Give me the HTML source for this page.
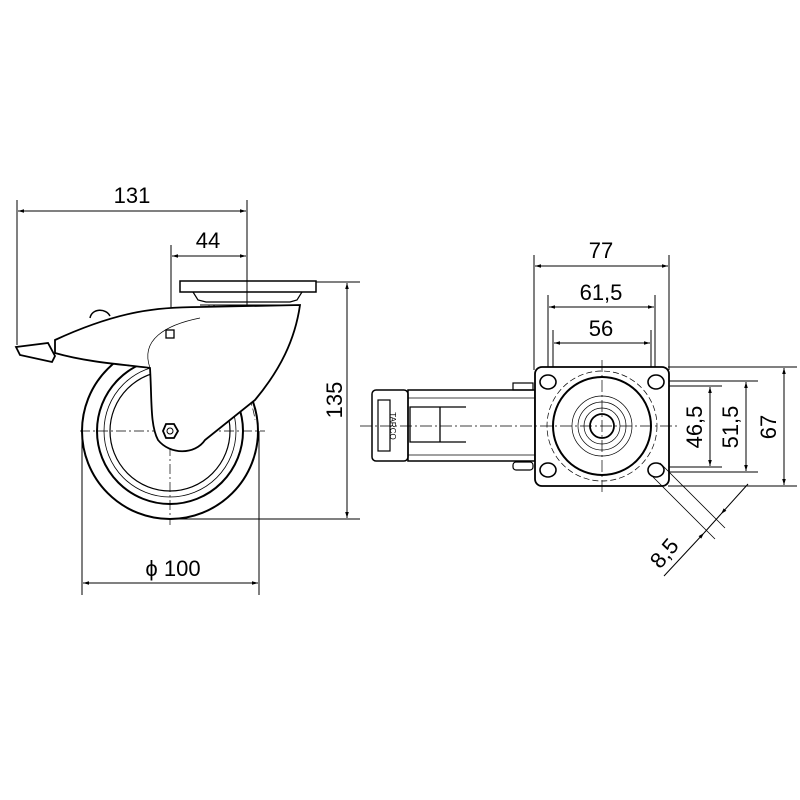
<!DOCTYPE html>
<html><head><style>body{margin:0;background:#fff}svg{display:block}</style></head><body>
<svg width="800" height="800" viewBox="0 0 800 800" xmlns="http://www.w3.org/2000/svg" font-family="Liberation Sans, DejaVu Sans, sans-serif">
<defs>
<marker id="a" viewBox="0 0 10 10" refX="10" refY="5" markerWidth="12" markerHeight="6" orient="auto-start-reverse" markerUnits="userSpaceOnUse"><path d="M0,2 L10,5 L0,8z" fill="#000"/></marker>
</defs>
<g stroke="#000" fill="none" stroke-width="1">
<!-- LEFT VIEW dimensions -->
<line x1="17" y1="200" x2="17" y2="345"/>
<line x1="247" y1="200" x2="247" y2="330"/>
<line x1="18" y1="211" x2="246" y2="211" marker-start="url(#a)" marker-end="url(#a)"/>
<line x1="171" y1="245" x2="171" y2="430"/>
<line x1="172" y1="256" x2="246" y2="256" marker-start="url(#a)" marker-end="url(#a)"/>
<line x1="316" y1="282" x2="360" y2="282"/>
<line x1="170" y1="519" x2="360" y2="519"/>
<line x1="347" y1="283" x2="347" y2="518" marker-start="url(#a)" marker-end="url(#a)"/>
<line x1="82" y1="431" x2="82" y2="595"/>
<line x1="259" y1="431" x2="259" y2="595"/>
<line x1="83" y1="583" x2="258" y2="583" marker-start="url(#a)" marker-end="url(#a)"/>
<!-- wheel -->
<circle cx="170" cy="431" r="88" stroke-width="2"/>
<circle cx="170" cy="431" r="73" stroke-width="2"/>
<circle cx="170" cy="431" r="66" stroke-width="0.8"/>
<circle cx="170" cy="431" r="60" stroke-width="1.2"/>
<path d="M170 345 A86 86 0 0 1 255 420" stroke-dasharray="8 3 2 3" stroke-width="0.7"/>
<line x1="80" y1="431" x2="265" y2="431" stroke-dasharray="10 3 2 3" stroke-width="0.7"/>
<line x1="170" y1="320" x2="170" y2="525" stroke-dasharray="10 3 2 3" stroke-width="0.7"/>
<!-- plate -->
<rect x="180" y="281" width="136" height="11" stroke-width="1.5"/>
<path d="M193 292 L198 300 L206 302 L290 302 L297 300 L302 292" stroke-width="1.2"/>
<path d="M200 305 L293 305" />
<line x1="214" y1="305" x2="214" y2="425"/>
<line x1="209" y1="305" x2="209" y2="425" stroke-width="0.7"/>
<!-- fork -->
<path d="M200 307 C160 307 120 310 55 340 L55 353 C90 363 130 365 150 368 C152 400 150 425 158 440 C170 455 195 455 205 440 L255 400 C280 370 295 340 300 305 Z" fill="#fff" stroke-width="1.8"/>
<path d="M150 368 C140 340 165 325 200 318" stroke-width="0.7"/>
<!-- brake pedal -->
<path d="M16 347 L48 343 L55 356 L52 362 L20 355 Z" fill="#fff" stroke-width="1.8"/>
<path d="M90 318 C92 308 106 308 110 316" stroke-width="1.5"/>
<rect x="166" y="330" width="8" height="8" stroke-width="1.3"/>
<!-- hub nut -->
<polygon points="163,431 166,424 174,424 178,431 174,438 166,438" stroke-width="1.8" fill="#fff"/>
<circle cx="170" cy="431" r="3" stroke-width="1"/>

<!-- RIGHT VIEW -->
<line x1="534" y1="255" x2="534" y2="370"/>
<line x1="669" y1="255" x2="669" y2="370"/>
<line x1="535" y1="266" x2="668" y2="266" marker-start="url(#a)" marker-end="url(#a)"/>
<line x1="548" y1="295" x2="548" y2="380"/>
<line x1="655" y1="295" x2="655" y2="380"/>
<line x1="549" y1="307" x2="654" y2="307" marker-start="url(#a)" marker-end="url(#a)"/>
<line x1="553" y1="330" x2="553" y2="372"/>
<line x1="651" y1="330" x2="651" y2="372"/>
<line x1="554" y1="343" x2="650" y2="343" marker-start="url(#a)" marker-end="url(#a)"/>
<line x1="668" y1="367" x2="797" y2="367"/>
<line x1="668" y1="486" x2="797" y2="486"/>
<line x1="784" y1="368" x2="784" y2="485" marker-start="url(#a)" marker-end="url(#a)"/>
<line x1="660" y1="381" x2="758" y2="381"/>
<line x1="660" y1="472" x2="758" y2="472"/>
<line x1="746" y1="382" x2="746" y2="471" marker-start="url(#a)" marker-end="url(#a)"/>
<line x1="660" y1="386" x2="722" y2="386"/>
<line x1="660" y1="467" x2="722" y2="467"/>
<line x1="710" y1="387" x2="710" y2="466" marker-start="url(#a)" marker-end="url(#a)"/>
<!-- arm -->
<rect x="372" y="390" width="36" height="71" rx="4" stroke-width="1.5"/>
<rect x="378" y="400" width="12" height="51" stroke-width="1.2"/>
<rect x="408" y="390" width="127" height="71" stroke-width="1.5"/>
<line x1="408" y1="398" x2="535" y2="398" stroke-width="0.8"/>
<line x1="408" y1="455" x2="535" y2="455" stroke-width="0.8"/>
<path d="M466 407 L410 407 L410 442 L466 442 M440 407 L440 442" stroke-width="1.3"/>
<rect x="513" y="383" width="20" height="7" stroke-width="1.2"/>
<rect x="513" y="462" width="20" height="8" rx="3" stroke-width="1.2"/>
<!-- plate -->
<rect x="535" y="367" width="134" height="119" rx="7" stroke-width="1.8" fill="#fff"/>
<circle cx="602" cy="426" r="55" stroke-width="0.7" stroke-dasharray="6 3"/>
<circle cx="602" cy="426" r="49" stroke-width="2"/>
<circle cx="602" cy="426" r="30" stroke-width="0.7"/>
<circle cx="602" cy="426" r="24" stroke-width="0.7"/>
<circle cx="602" cy="426" r="18" stroke-width="0.7"/>
<circle cx="602" cy="426" r="12" stroke-width="1.8"/>
<line x1="360" y1="426" x2="680" y2="426" stroke-dasharray="12 3 2 3" stroke-width="0.7"/>
<line x1="602" y1="360" x2="602" y2="492" stroke-dasharray="12 3 2 3" stroke-width="0.7"/>
<g stroke-width="1.6">
<ellipse cx="548" cy="382" rx="8" ry="7"/>
<ellipse cx="656" cy="382" rx="8" ry="7"/>
<ellipse cx="548" cy="470" rx="8" ry="7"/>
<ellipse cx="656" cy="470" rx="8" ry="7"/>
</g>
<!-- 8.5 diagonal -->
<line x1="660" y1="463" x2="725" y2="528" stroke-width="0.8"/>
<line x1="652" y1="476" x2="715" y2="539" stroke-width="0.8"/>
<line x1="748" y1="484" x2="721" y2="514" marker-end="url(#a)"/>
<line x1="664" y1="576" x2="704" y2="533" marker-end="url(#a)"/>
<line x1="704" y1="533" x2="721" y2="514"/>
</g>
<g font-size="22" fill="#000" text-anchor="middle">
<text x="132" y="203">131</text>
<text x="208" y="248">44</text>
<text x="342" y="400" transform="rotate(-90 342 400)">135</text>
<text x="173" y="576">ϕ  100</text>
<text x="601" y="258">77</text>
<text x="601" y="300">61,5</text>
<text x="601" y="336">56</text>
<text x="702" y="427" transform="rotate(-90 702 427)">46,5</text>
<text x="738" y="427" transform="rotate(-90 738 427)">51,5</text>
<text x="776" y="427" transform="rotate(-90 776 427)">67</text>
<text x="670" y="558" transform="rotate(-50 670 558)">8,5</text>
<text x="390" y="426" font-size="8" transform="rotate(90 390 426)">TARCO</text>
</g>
</svg>
</body></html>
